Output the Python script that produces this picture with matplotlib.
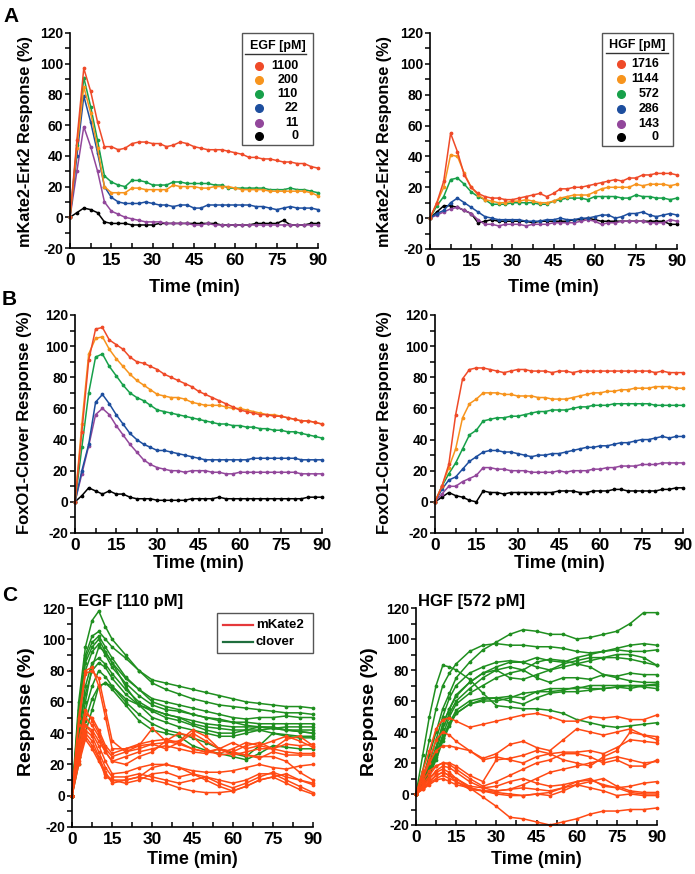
"""
Erk / FoxO1 reporter responses to EGF and HGF (panels A-C).
Writes out.png
"""

import numpy as np
import matplotlib
matplotlib.use('Agg')
import matplotlib.pyplot as plt
from matplotlib.patches import Rectangle
from matplotlib.lines import Line2D

W, H = 695, 874

# ---------------- data ----------------
T_AB = np.arange(0, 90.1, 2.5)          # 37 sample times (min)
T_C = [0, 2.5, 5, 7.5, 10, 12.5, 15, 20, 25, 30, 35, 40, 45, 50, 55, 60, 65, 70, 75, 80, 85, 90]

EGF_DOSES = ["1100", "200", "110", "22", "11", "0"]
HGF_DOSES = ["1716", "1144", "572", "286", "143", "0"]
DOSE_COLORS = ["#EF4A28", "#F7941D", "#17A04A", "#1D4E9E", "#92479B", "#000000"]

# A, left: mKate2-Erk2, EGF
ERK_EGF_1100 = [0, 50, 97, 82, 62, 46, 46, 44, 45, 48, 49, 49, 48, 48, 46, 47, 49, 48, 46,
                45, 44, 44, 44, 43, 42, 41, 39, 39, 38, 38, 37, 36, 36, 35, 35, 33, 32]
ERK_EGF_200 = [0, 45, 85, 68, 45, 20, 16, 16, 16, 19, 19, 18, 18, 18, 18, 21, 20, 20, 20,
               19, 19, 20, 20, 20, 19, 18, 18, 18, 18, 17, 17, 17, 17, 17, 17, 16, 14]
ERK_EGF_110 = [0, 47, 91, 72, 50, 27, 23, 21, 20, 24, 24, 23, 21, 21, 21, 23, 23, 22, 22,
               22, 22, 21, 21, 19, 19, 19, 19, 19, 19, 18, 18, 18, 19, 18, 18, 17, 16]
ERK_EGF_22 = [0, 40, 79, 62, 42, 20, 13, 10, 9, 9, 9, 10, 9, 8, 8, 7, 8, 8, 6,
              6, 8, 8, 8, 8, 8, 8, 8, 7, 7, 6, 5, 6, 7, 6, 6, 6, 5]
ERK_EGF_11 = [0, 30, 59, 46, 30, 10, 4, 2, 0, -1, -2, -3, -3, -3, -4, -4, -4, -4, -5,
              -5, -4, -5, -5, -5, -5, -5, -5, -5, -5, -5, -5, -5, -5, -5, -5, -5, -5]
ERK_EGF_0 = [0, 3, 6, 5, 3, -3, -4, -4, -4, -5, -5, -5, -5, -4, -4, -4, -4, -4, -4,
             -4, -4, -4, -5, -5, -5, -5, -5, -4, -4, -4, -4, -2, -5, -5, -5, -4, -4]

# A, right: mKate2-Erk2, HGF
ERK_HGF_1716 = [0, 10, 24, 55, 43, 28, 20, 16, 14, 13, 13, 12, 12, 13, 14, 15, 16, 14, 16,
                19, 19, 20, 20, 21, 22, 23, 24, 25, 24, 26, 26, 28, 28, 29, 29, 29, 28]
ERK_HGF_1144 = [0, 10, 20, 41, 40, 29, 20, 15, 12, 11, 10, 10, 11, 11, 12, 11, 10, 10, 11,
                13, 14, 15, 15, 15, 17, 19, 20, 20, 20, 20, 22, 21, 22, 22, 22, 21, 22]
ERK_HGF_572 = [0, 8, 14, 25, 26, 22, 17, 14, 12, 9, 9, 9, 10, 10, 10, 10, 9, 9, 11,
               12, 13, 13, 13, 12, 14, 14, 14, 14, 13, 13, 15, 14, 14, 13, 13, 12, 13]
ERK_HGF_286 = [0, 3, 5, 10, 13, 10, 7, 4, 1, 0, -1, -1, -1, -1, -2, -2, -2, -1, -1,
               0, -1, -1, 0, 0, 1, 2, 2, 0, 1, 3, 3, 4, 2, 1, 2, 3, 2]
ERK_HGF_143 = [0, 2, 4, 6, 7, 5, 3, -1, -4, -4, -5, -4, -4, -4, -5, -4, -4, -4, -3,
               -3, -3, -3, -2, -1, -2, -4, -3, -3, -2, -2, -2, -2, -3, -3, -3, -1, -2]
ERK_HGF_0 = [0, 4, 8, 8, 7, 5, 3, -3, -2, -1, -2, -2, -2, -2, -2, -3, -2, -2, -2,
             -2, -2, -1, -1, 0, -1, -2, -2, -2, -2, -2, -2, -2, -2, -2, -2, -4, -4]

# B, left: FoxO1-Clover, EGF
FOX_EGF_1100 = [0, 45, 91, 111, 112, 104, 101, 98, 93, 90, 89, 87, 85, 82, 80, 78, 76, 74, 71,
                69, 67, 65, 63, 61, 59, 58, 57, 56, 56, 55, 55, 54, 53, 52, 52, 51, 50]
FOX_EGF_200 = [0, 50, 95, 105, 106, 98, 92, 87, 82, 78, 75, 72, 69, 68, 67, 67, 66, 64, 63,
               62, 62, 62, 61, 60, 60, 59, 58, 57, 56, 56, 55, 54, 53, 52, 52, 51, 50]
FOX_EGF_110 = [0, 35, 70, 93, 95, 87, 81, 75, 70, 67, 65, 62, 59, 58, 57, 56, 55, 54, 53,
               52, 51, 50, 50, 49, 49, 48, 48, 47, 47, 46, 46, 45, 45, 44, 43, 42, 41]
FOX_EGF_22 = [0, 20, 37, 64, 69, 63, 56, 50, 44, 40, 37, 35, 33, 33, 32, 31, 30, 29, 28,
              27, 27, 27, 27, 27, 27, 27, 28, 28, 28, 28, 28, 28, 28, 27, 27, 27, 27]
FOX_EGF_11 = [0, 18, 36, 56, 60, 56, 49, 43, 37, 32, 27, 24, 22, 21, 20, 20, 19, 20, 20,
              20, 19, 19, 18, 18, 19, 19, 19, 19, 19, 19, 19, 19, 19, 18, 18, 18, 18]
FOX_EGF_0 = [0, 4, 9, 7, 5, 7, 5, 5, 3, 2, 2, 2, 1, 1, 1, 1, 1, 2, 2,
             2, 2, 3, 2, 2, 2, 2, 2, 2, 2, 2, 2, 2, 2, 2, 3, 3, 3]

# B, right: FoxO1-Clover, HGF
FOX_HGF_1716 = [0, 10, 24, 56, 79, 85, 86, 86, 85, 84, 83, 84, 85, 85, 84, 84, 84, 83, 84,
                84, 83, 84, 84, 84, 84, 84, 84, 84, 84, 84, 84, 84, 83, 84, 83, 83, 83]
FOX_HGF_1144 = [0, 10, 22, 34, 54, 63, 66, 70, 70, 70, 69, 69, 68, 68, 68, 67, 67, 66, 66,
                66, 67, 68, 69, 70, 70, 71, 71, 72, 72, 73, 73, 73, 74, 74, 74, 73, 73]
FOX_HGF_572 = [0, 10, 18, 25, 34, 43, 46, 52, 53, 54, 54, 55, 55, 56, 57, 58, 58, 59, 59,
               59, 60, 61, 61, 62, 62, 62, 63, 63, 63, 63, 63, 63, 62, 62, 62, 62, 62]
FOX_HGF_286 = [0, 8, 14, 16, 21, 26, 29, 32, 33, 33, 32, 32, 31, 30, 29, 30, 30, 31, 31,
               32, 33, 34, 35, 35, 36, 36, 37, 38, 38, 39, 40, 40, 41, 42, 41, 42, 42]
FOX_HGF_143 = [0, 5, 10, 10, 13, 15, 17, 22, 22, 21, 21, 20, 20, 20, 19, 19, 19, 19, 20,
               19, 20, 20, 20, 21, 21, 22, 22, 23, 23, 23, 24, 24, 24, 25, 25, 25, 25]
FOX_HGF_0 = [0, 3, 6, 4, 3, 1, 0, 7, 6, 6, 5, 6, 6, 6, 6, 6, 6, 6, 7,
             7, 7, 6, 6, 7, 7, 7, 8, 8, 7, 7, 7, 7, 7, 8, 8, 9, 9]

# C, left: single cells, EGF 110 pM
EGF_CLOVER_CELLS = [
    [0, 55, 90, 102, 105, 100, 95, 88, 80, 74, 72, 70, 68, 66, 64, 62, 60, 59, 58, 57, 57, 56],
    [0, 60, 95, 112, 118, 108, 100, 90, 80, 72, 68, 65, 62, 60, 58, 57, 56, 55, 54, 53, 53, 52],
    [0, 50, 85, 95, 100, 92, 85, 75, 68, 62, 60, 58, 56, 54, 52, 50, 49, 50, 50, 51, 50, 50],
    [0, 45, 80, 92, 97, 90, 82, 72, 64, 58, 55, 54, 52, 50, 48, 47, 47, 46, 46, 46, 46, 46],
    [0, 40, 70, 85, 88, 84, 78, 68, 60, 55, 52, 50, 48, 46, 45, 44, 44, 44, 43, 44, 44, 44],
    [0, 40, 65, 80, 85, 82, 75, 65, 58, 54, 50, 48, 45, 42, 40, 40, 42, 44, 44, 42, 41, 40],
    [0, 35, 60, 82, 95, 92, 85, 70, 58, 50, 47, 44, 42, 40, 38, 38, 40, 42, 40, 39, 38, 38],
    [0, 30, 55, 70, 80, 76, 70, 60, 52, 46, 42, 40, 37, 34, 30, 27, 25, 32, 40, 38, 37, 37],
    [0, 25, 48, 62, 70, 72, 68, 58, 48, 42, 40, 38, 32, 29, 27, 25, 23, 27, 32, 31, 30, 30],
    [0, 20, 40, 55, 70, 72, 70, 62, 58, 55, 52, 50, 46, 44, 43, 42, 42, 42, 43, 42, 42, 42],
    [0, 50, 88, 98, 102, 95, 88, 76, 68, 60, 57, 55, 52, 50, 49, 47, 45, 44, 43, 42, 41, 40],
]
EGF_MKATE_CELLS = [
    [0, 50, 80, 82, 70, 50, 30, 30, 33, 35, 36, 34, 30, 28, 27, 30, 34, 32, 30, 33, 32, 33],
    [0, 45, 78, 80, 75, 55, 35, 28, 30, 33, 34, 35, 42, 38, 30, 34, 30, 32, 35, 38, 35, 31],
    [0, 35, 55, 48, 40, 30, 25, 28, 32, 43, 35, 33, 30, 28, 30, 26, 28, 30, 30, 28, 27, 27],
    [0, 30, 50, 45, 38, 28, 22, 25, 28, 30, 32, 30, 28, 27, 30, 28, 26, 24, 28, 26, 26, 26],
    [0, 28, 45, 40, 32, 22, 14, 15, 18, 20, 20, 18, 16, 15, 15, 16, 18, 20, 18, 17, 19, 20],
    [0, 25, 42, 38, 28, 18, 12, 12, 14, 12, 10, 8, 10, 12, 8, 5, 8, 12, 15, 12, 10, 8],
    [0, 25, 40, 35, 25, 15, 8, 10, 12, 18, 20, 18, 14, 10, 6, 3, 6, 10, 12, 14, 10, 7],
    [0, 22, 38, 32, 24, 12, 10, 8, 10, 14, 15, 12, 14, 12, 10, 8, 10, 14, 14, 10, 6, 2],
    [0, 20, 36, 30, 22, 14, 10, 10, 12, 10, 8, 5, 3, 2, 2, 3, 6, 10, 12, 8, 4, 1],
    [0, 35, 52, 50, 42, 32, 27, 30, 32, 33, 30, 34, 40, 35, 30, 28, 32, 34, 30, 36, 38, 32],
    [0, 30, 45, 42, 35, 28, 22, 20, 25, 28, 35, 40, 38, 30, 26, 27, 26, 25, 25, 22, 15, 10],
]

# C, right: single cells, HGF 572 pM
HGF_CLOVER_CELLS = [
    [0, 10, 25, 40, 55, 65, 75, 85, 93, 98, 103, 106, 105, 103, 103, 100, 101, 103, 105, 110, 117, 117],
    [0, 15, 35, 55, 70, 78, 84, 92, 96, 97, 96, 96, 95, 95, 94, 92, 91, 92, 94, 96, 97, 96],
    [0, 25, 50, 70, 83, 82, 80, 74, 65, 57, 56, 55, 55, 54, 52, 48, 46, 44, 43, 44, 45, 46],
    [0, 8, 20, 35, 50, 62, 70, 78, 82, 85, 86, 85, 88, 86, 85, 88, 90, 92, 93, 92, 92, 93],
    [0, 8, 18, 30, 45, 55, 64, 72, 78, 82, 85, 85, 82, 80, 84, 86, 88, 88, 90, 90, 88, 83],
    [0, 6, 15, 28, 42, 52, 60, 68, 75, 80, 82, 80, 75, 72, 75, 75, 74, 77, 76, 78, 77, 77],
    [0, 6, 14, 26, 38, 50, 58, 65, 70, 75, 78, 80, 85, 87, 86, 84, 82, 77, 75, 73, 72, 72],
    [0, 5, 12, 24, 36, 46, 54, 60, 62, 62, 63, 62, 66, 68, 68, 68, 70, 70, 70, 70, 70, 70],
    [0, 5, 12, 22, 34, 44, 52, 58, 60, 60, 62, 65, 66, 66, 67, 69, 68, 68, 69, 70, 69, 68],
    [0, 7, 16, 30, 45, 55, 63, 72, 78, 80, 75, 74, 77, 80, 82, 84, 86, 88, 88, 87, 85, 83],
    [0, 6, 14, 25, 36, 45, 52, 58, 61, 62, 60, 58, 62, 65, 66, 66, 67, 68, 69, 68, 70, 71],
]
HGF_MKATE_CELLS = [
    [0, 15, 28, 42, 48, 49, 47, 43, 45, 47, 49, 51, 52, 50, 47, 47, 50, 49, 50, 48, 48, 51],
    [0, 12, 22, 35, 40, 38, 34, 28, 23, 26, 32, 34, 30, 28, 35, 42, 40, 38, 40, 42, 38, 37],
    [0, 10, 20, 28, 31, 31, 30, 28, 22, 24, 22, 20, 24, 26, 27, 27, 28, 26, 30, 35, 34, 33],
    [0, 8, 15, 18, 20, 20, 18, 12, 8, 22, 23, 25, 28, 26, 22, 20, 18, 24, 28, 40, 38, 35],
    [0, 6, 12, 18, 20, 19, 16, 10, 5, 8, 12, 16, 20, 22, 26, 26, 24, 20, 22, 18, 18, 22],
    [0, 5, 10, 15, 18, 17, 14, 8, 4, 2, 3, 6, 10, 14, 16, 18, 20, 22, 24, 22, 20, 21],
    [0, 5, 10, 14, 16, 14, 10, 5, 4, 5, 8, 10, 7, 5, 6, 8, 10, 5, 4, 5, 7, 8],
    [0, 4, 8, 12, 14, 12, 8, 4, 2, 2, 3, 4, 3, 2, 4, 6, 8, 10, 5, 2, 1, 1],
    [0, 3, 7, 10, 12, 10, 8, 3, 2, 0, -1, -1, 0, 1, 4, 8, 9, 6, 4, 1, 0, 0],
    [0, 3, 6, 9, 10, 8, 6, 4, 2, 1, 0, -1, 0, -1, 2, 6, 4, 2, -1, 0, -1, -1],
    [0, 4, 8, 12, 14, 12, 10, 4, -2, -8, -15, -16, -18, -20, -18, -16, -13, -11, -11, -10, -10, -9],
]

CELL_RED = "#FF4A14"
CELL_GREEN = "#1F8F1F"

# ---------------- style ----------------
plt.rcParams['font.family'] = ['Liberation Sans', 'DejaVu Sans']
plt.rcParams['font.weight'] = 'bold'
plt.rcParams['axes.unicode_minus'] = False


def fx(x):
    return x / W


def fy(y):
    return 1 - y / H


def make_axes(fig, x0, x1, top, bot):
    ax = fig.add_axes([x0 / W, 1 - bot / H, (x1 - x0) / W, (bot - top) / H])
    ax.set_xlim(0, 90)
    ax.set_ylim(-20, 120)
    for s in ['top', 'right']:
        ax.spines[s].set_visible(False)
    for s in ['left', 'bottom']:
        ax.spines[s].set_linewidth(1.2)
    ax.set_xticks(np.arange(0, 91, 15))
    ax.set_xticks(np.arange(0, 91, 7.5), minor=True)
    ax.set_yticks(range(-20, 121, 20))
    ax.set_yticks(range(-20, 121, 10), minor=True)
    ax.tick_params(axis='x', which='both', direction='in', length=3.5, width=1.1,
                   labelsize=12.5, pad=3.5)
    ax.tick_params(axis='y', which='both', direction='out', length=3.5, width=1.1,
                   labelsize=10, pad=1.5)
    ax.patch.set_alpha(0)
    return ax


def plot_doses(ax, series):
    for y, c in reversed(list(zip(series, DOSE_COLORS))):
        ax.plot(T_AB, y, color=c, lw=1.1, marker='o', ms=1.7, clip_on=False)


def dose_legend(fig, box, title, title_y, rule, mark_x, text_x, ys, labels):
    x0, y0, x1, y1 = box
    fig.add_artist(Rectangle((fx(x0), fy(y1)), fx(x1 - x0), (y1 - y0) / H,
                             transform=fig.transFigure, facecolor='white',
                             edgecolor='#555555', lw=1.0))
    fig.text(fx((x0 + x1) / 2), fy(title_y), title, ha='center', va='center', fontsize=9)
    fig.add_artist(Line2D([fx(rule[0]), fx(rule[1])], [fy(rule[2])] * 2,
                          transform=fig.transFigure, color='#333333', lw=1.0))
    for y, lab, c in zip(ys, labels, DOSE_COLORS):
        fig.add_artist(Line2D([fx(mark_x)], [fy(y)], transform=fig.transFigure,
                              marker='o', ms=5.5, color=c, lw=0))
        fig.text(fx(text_x), fy(y), lab, ha='right', va='center', fontsize=9)


fig = plt.figure(figsize=(W / 100, H / 100), dpi=100)

# ---- A ----
axA1 = make_axes(fig, 70, 318, 33, 248)
plot_doses(axA1, [ERK_EGF_1100, ERK_EGF_200, ERK_EGF_110, ERK_EGF_22, ERK_EGF_11, ERK_EGF_0])
axA2 = make_axes(fig, 430, 677, 33, 249)
plot_doses(axA2, [ERK_HGF_1716, ERK_HGF_1144, ERK_HGF_572, ERK_HGF_286, ERK_HGF_143, ERK_HGF_0])

dose_legend(fig, (242, 33, 313, 145), "EGF [pM]", 46, (245, 306, 54), 259, 298,
            [66, 80, 94, 108, 123, 136], EGF_DOSES)
dose_legend(fig, (602, 33, 673, 146), "HGF [pM]", 45, (606, 668, 53), 621, 659,
            [64, 79, 94, 109, 124, 137], HGF_DOSES)

# ---- B ----
axB1 = make_axes(fig, 75, 322, 315, 533)
plot_doses(axB1, [FOX_EGF_1100, FOX_EGF_200, FOX_EGF_110, FOX_EGF_22, FOX_EGF_11, FOX_EGF_0])
axB2 = make_axes(fig, 435, 683, 315, 533)
plot_doses(axB2, [FOX_HGF_1716, FOX_HGF_1144, FOX_HGF_572, FOX_HGF_286, FOX_HGF_143, FOX_HGF_0])

# ---- C ----
axC1 = make_axes(fig, 72, 313, 608, 827)
axC2 = make_axes(fig, 416, 657, 608, 825)
for ax, greens, reds in [(axC1, EGF_CLOVER_CELLS, EGF_MKATE_CELLS),
                         (axC2, HGF_CLOVER_CELLS, HGF_MKATE_CELLS)]:
    for y in greens:
        ax.plot(T_C, y, color=CELL_GREEN, lw=1.1, marker='o', ms=1.7, clip_on=False)
    for y in reds:
        ax.plot(T_C, y, color=CELL_RED, lw=1.1, marker='o', ms=1.7, clip_on=False)

fig.add_artist(Rectangle((fx(217), fy(653)), fx(96), 40 / H, transform=fig.transFigure,
                         facecolor='white', edgecolor='#555555', lw=1.0))
for y, lab, c in [(625, "mKate2", "#E5383B"), (642, "clover", "#1F6E3E")]:
    fig.add_artist(Line2D([fx(223), fx(253)], [fy(y)] * 2, transform=fig.transFigure,
                          color=c, lw=1.6))
    fig.text(fx(256), fy(y), lab, ha='left', va='center', fontsize=9.5)

fig.text(fx(78), fy(606), "EGF [110 pM]", fontsize=12, va='baseline')
fig.text(fx(418), fy(606), "HGF [572 pM]", fontsize=12, va='baseline')

# ---- axis labels ----
for x, y in [(194, 287), (553, 287), (198, 564), (559, 564), (192, 860), (536, 860)]:
    fig.text(fx(x), fy(y), "Time (min)", ha='center', va='center', fontsize=13)
for x, y, lab, fs in [(26, 142, "mKate2-Erk2 Response (%)", 11.7),
                      (385, 142, "mKate2-Erk2 Response (%)", 11.7),
                      (25, 423, "FoxO1-Clover Response (%)", 12),
                      (384, 423, "FoxO1-Clover Response (%)", 12),
                      (27, 712, "Response (%)", 14),
                      (370, 712, "Response (%)", 14)]:
    fig.text(fx(x), fy(y), lab, ha='center', va='center', rotation=90, fontsize=fs)

for lab, x, y in [("A", 3, 22), ("B", 2, 305), ("C", 2, 601)]:
    fig.text(fx(x), fy(y), lab, fontsize=15, va='baseline')

fig.savefig("out.png", dpi=100)
